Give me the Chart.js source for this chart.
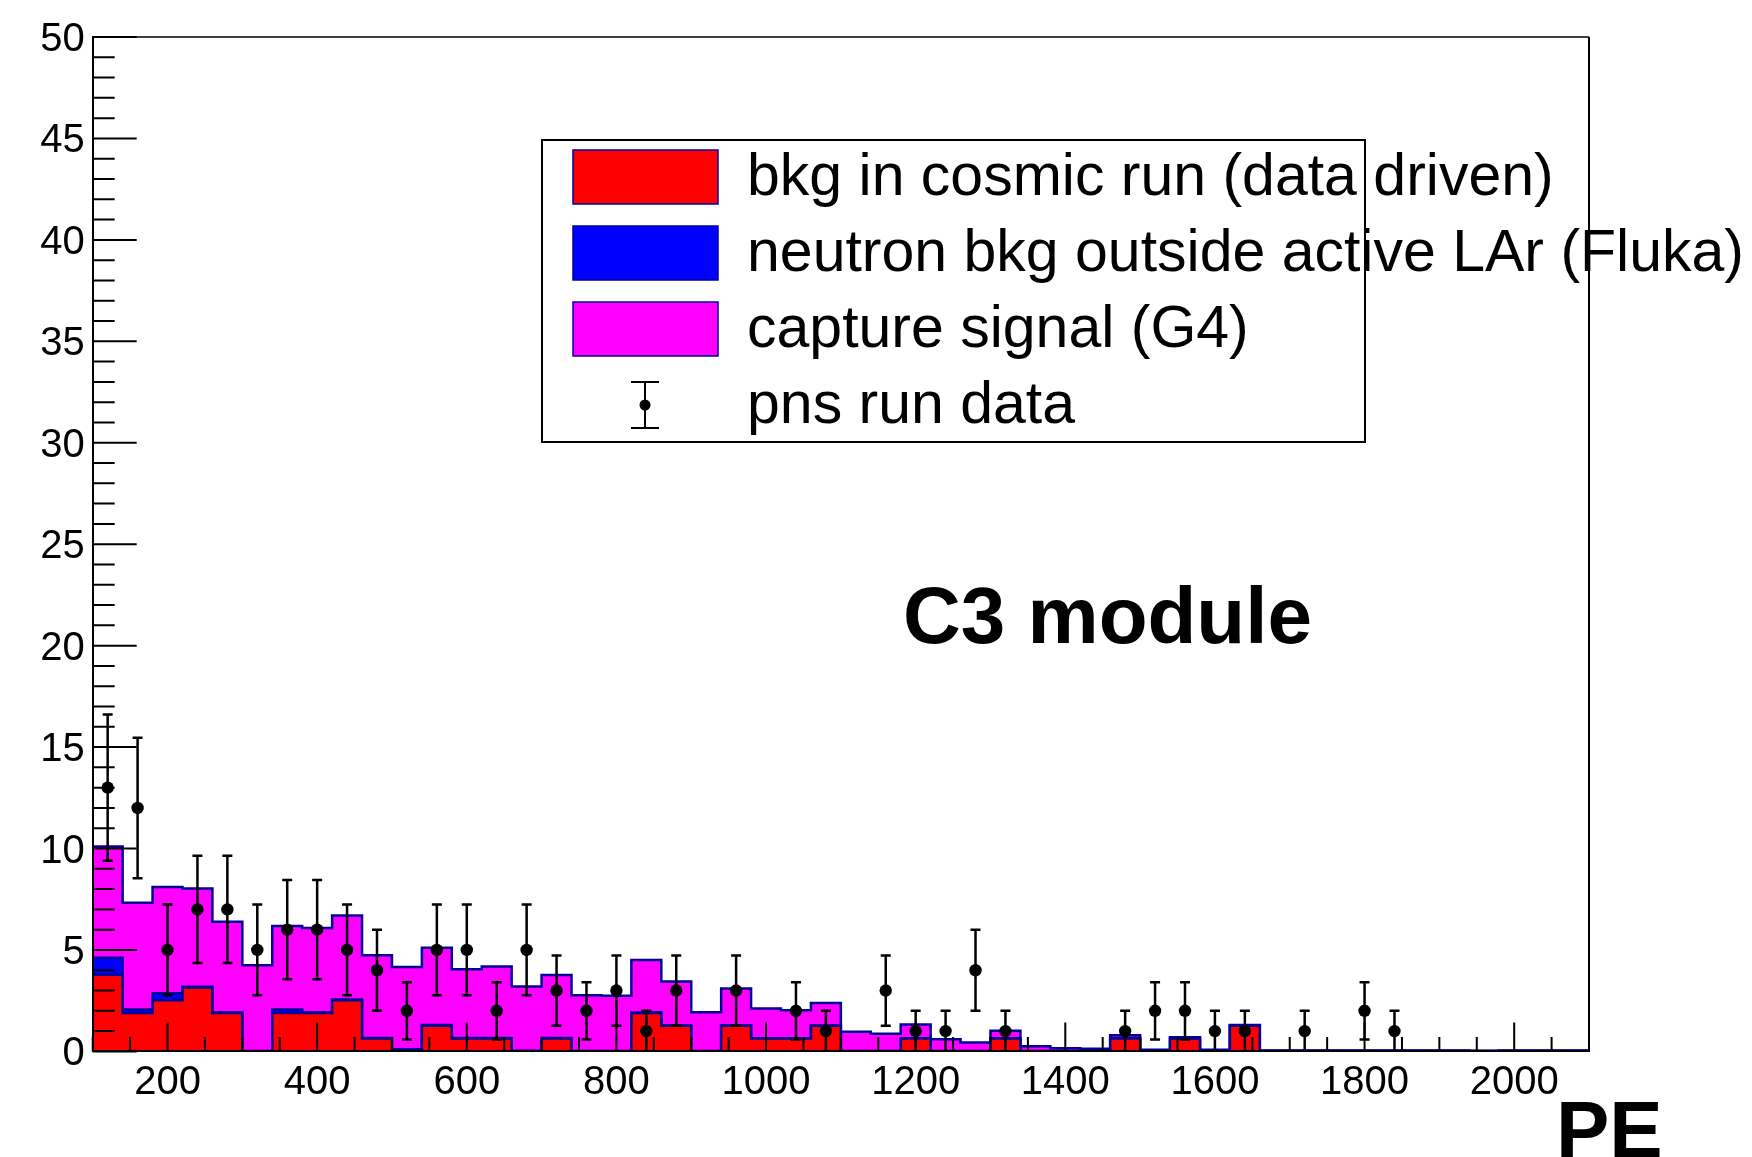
<!DOCTYPE html>
<html>
<head>
<meta charset="utf-8">
<script src="https://cdn.jsdelivr.net/npm/chart.js@4/dist/chart.umd.min.js"></script>
<style>
  html, body { margin: 0; padding: 0; background: #ffffff; overflow: hidden; }
  #wrap { width: 1752px; height: 1157px; position: relative; }
  canvas { display: block; }
</style>
</head>
<body>
<div id="wrap"><canvas id="pe" width="1752" height="1157"></canvas></div>
<script>
// Histogram binning (PE), 40 PE wide bins
const binLowEdges = [100,140,180,220,260,300,340,380,420,460,500,540,580,620,660,700,740,780,820,860,
  900,940,980,1020,1060,1100,1140,1180,1220,1260,1300,1340,1380,1420,1460,1500,1540,1580,1620,1660,
  1700,1740,1780,1820,1860,1900,1940,1980,2020,2060];
const histUpperEdge = 2100;

// Stacked components (entries per bin)
const cosmicBkg = [3.78,1.89,2.52,3.15,1.89,0,1.89,1.89,2.52,0.63,
  0,1.26,0.63,0.63,0,0.63,0,0,1.89,1.26,
  0,1.26,0.63,0.63,1.26,0,0,0.63,0,0,
  0.63,0,0,0,0.63,0,0.63,0,1.26,0,
  0,0,0,0,0,0,0,0,0,0];
const neutronBkg = [0.84,0.17,0.35,0.04,0.03,0.02,0.17,0.03,0.04,0.03,
  0.10,0.04,0.03,0.03,0.03,0.03,0.02,0.02,0.03,0.02,
  0.02,0.02,0.02,0.02,0.02,0.02,0.02,0.02,0.02,0.02,
  0.02,0.02,0.02,0.02,0.03,0.04,0.03,0.04,0.02,0.03,
  0.03,0.03,0.03,0.03,0.03,0.03,0.02,0.03,0.03,0.03];
const captureSignal = [5.48,5.27,5.23,4.84,4.47,4.23,4.12,4.16,4.14,4.08,
  4.06,3.81,3.39,3.52,3.17,3.11,2.75,2.72,2.58,2.16,
  1.91,1.82,1.46,1.38,1.10,0.95,0.85,0.68,0.58,0.42,
  0.37,0.23,0.14,0.11,0.13,0.04,0.04,0.04,0.02,0.01,
  0.01,0.01,0.01,0.01,0.01,0.01,0.01,0.01,0.01,0.01];

// Measured counts in the pns run
const pnsCounts = [13,12,5,7,7,5,6,6,5,4,
  2,5,5,2,5,3,2,3,1,3,
  0,3,0,2,1,0,3,1,1,4,
  1,0,0,0,1,2,2,1,1,0,
  1,0,2,1,0,0,0,0,0,0];

const seriesNames = ['bkg in cosmic run (data driven)', 'neutron bkg outside active LAr (Fluka)',
  'capture signal (G4)', 'pns run data'];
const xTickLabels = [200,400,600,800,1000,1200,1400,1600,1800,2000];
const yTickLabels = [0,5,10,15,20,25,30,35,40,45,50];
const axisTitle = 'PE';
const moduleLabel = 'C3 module';

const FONT = "'Liberation Sans', Arial, Helvetica, sans-serif";
const fillColors = ['#ff0000', '#0000ff', '#ff00ff'];
const outline = '#000099';

// step histogram: one point per lower bin edge plus the closing edge
function stepPoints(vals) {
  const pts = binLowEdges.map((e, i) => ({ x: e, y: vals[i] }));
  pts.push({ x: histUpperEdge, y: vals[vals.length - 1] });
  return pts;
}
function binCenter(i) {
  const hi = i + 1 < binLowEdges.length ? binLowEdges[i + 1] : histUpperEdge;
  return (binLowEdges[i] + hi) / 2;
}
const dataPoints = [];
pnsCounts.forEach((n, i) => { if (n > 0) dataPoints.push({ x: binCenter(i), y: n }); });

const histDataset = (label, vals, color, fill) => ({
  type: 'line', label, data: stepPoints(vals), stepped: true, fill,
  backgroundColor: color, borderColor: outline, borderWidth: 2.5,
  pointRadius: 0, tension: 0, stack: 'mc', yAxisID: 'y', order: 1
});

// inward ticks, frame, error bars
const framePlugin = {
  id: 'frame',
  afterDatasetsDraw(chart) {
    const { ctx, chartArea: a, scales } = chart;
    const xs = scales.x, ys = scales.y, yd = scales.yd;
    ctx.save();
    // error bars on data points (Poisson, sqrt(N))
    ctx.strokeStyle = '#000'; ctx.lineWidth = 2.5;
    dataPoints.forEach(p => {
      const err = Math.sqrt(p.y);
      const px = xs.getPixelForValue(p.x);
      const top = yd.getPixelForValue(p.y + err);
      const bot = yd.getPixelForValue(Math.max(p.y - err, 0));
      ctx.beginPath();
      ctx.moveTo(px, top); ctx.lineTo(px, bot);
      ctx.moveTo(px - 5, top); ctx.lineTo(px + 5, top);
      if (p.y - err > 0) { ctx.moveTo(px - 5, bot); ctx.lineTo(px + 5, bot); }
      ctx.stroke();
    });
    // y ticks (major every 5, minor every 1)
    ctx.lineWidth = 2;
    ctx.beginPath();
    for (let v = ys.min; v <= ys.max; v += 1) {
      const py = ys.getPixelForValue(v);
      const len = yTickLabels.includes(v) ? 44 : 22;
      ctx.moveTo(a.left, py); ctx.lineTo(a.left + len, py);
    }
    // x ticks (major every 200, minor every 50)
    for (let v = xs.min; v <= xs.max; v += 50) {
      const px = xs.getPixelForValue(v);
      const len = xTickLabels.includes(v) ? 29 : 14.5;
      ctx.moveTo(px, a.bottom); ctx.lineTo(px, a.bottom - len);
    }
    ctx.stroke();
    // frame top / right
    ctx.beginPath();
    ctx.lineWidth = 1.6;
    ctx.moveTo(a.left, a.top); ctx.lineTo(a.right, a.top);
    ctx.stroke();
    ctx.beginPath();
    ctx.lineWidth = 2;
    ctx.moveTo(a.right, a.top); ctx.lineTo(a.right, a.bottom);
    ctx.stroke();
    ctx.restore();
  },
  afterDraw(chart) {
    const { ctx } = chart;
    ctx.save();
    // legend box
    const bx = 542, by = 140, bw = 823, bh = 302;
    ctx.fillStyle = '#fff';
    ctx.fillRect(bx, by, bw, bh);
    ctx.strokeStyle = '#000'; ctx.lineWidth = 2;
    ctx.strokeRect(bx, by, bw, bh);
    const rowY = [177, 253, 329, 405];
    for (let i = 0; i < 3; i++) {
      ctx.fillStyle = fillColors[i];
      ctx.fillRect(573, rowY[i] - 27, 145, 54);
      ctx.strokeStyle = outline; ctx.lineWidth = 1.5;
      ctx.strokeRect(573, rowY[i] - 27, 145, 54);
    }
    // data marker in legend
    ctx.strokeStyle = '#000'; ctx.lineWidth = 2;
    ctx.beginPath();
    ctx.moveTo(645, 382); ctx.lineTo(645, 428);
    ctx.moveTo(631, 382); ctx.lineTo(659, 382);
    ctx.moveTo(631, 428); ctx.lineTo(659, 428);
    ctx.stroke();
    ctx.fillStyle = '#000';
    ctx.beginPath(); ctx.arc(645, 405, 5.5, 0, Math.PI * 2); ctx.fill();
    ctx.font = '59px ' + FONT;
    ctx.textBaseline = 'alphabetic'; ctx.textAlign = 'left';
    seriesNames.forEach((s, i) => ctx.fillText(s, 747, rowY[i] + 18));
    // annotations
    ctx.font = 'bold 80px ' + FONT;
    ctx.fillText(moduleLabel, 903, 643);
    ctx.font = 'bold 80px ' + FONT;
    ctx.fillText(axisTitle, 1556, 1157);
    ctx.restore();
  }
};

new Chart(document.getElementById('pe'), {
  type: 'line',
  data: {
    datasets: [
      histDataset(seriesNames[0], cosmicBkg, fillColors[0], 'origin'),
      histDataset(seriesNames[1], neutronBkg, fillColors[1], '-1'),
      histDataset(seriesNames[2], captureSignal, fillColors[2], '-1'),
      {
        type: 'line', label: seriesNames[3], data: dataPoints, showLine: false,
        pointRadius: 6.2, pointHoverRadius: 6.2, pointBackgroundColor: '#000',
        pointBorderWidth: 0, borderColor: '#000', yAxisID: 'yd', stack: 'data', order: 0
      }
    ]
  },
  options: {
    responsive: false,
    devicePixelRatio: 1,
    animation: false,
    events: [],
    layout: { padding: { top: 37, right: 163, left: 0, bottom: 0 } },
    plugins: { legend: { display: false }, tooltip: { enabled: false }, title: { display: false } },
    scales: {
      x: {
        type: 'linear', min: 100, max: 2100,
        grid: { display: false, drawTicks: false },
        border: { display: true, color: '#000', width: 2, z: 1 },
        ticks: {
          stepSize: 50, autoSkip: false, maxRotation: 0, minRotation: 0, padding: 8, color: '#000',
          font: { family: FONT, size: 40 },
          callback: v => xTickLabels.includes(v) ? String(v) : ''
        },
        afterFit(scale) { scale.height = 105.6; }
      },
      y: {
        type: 'linear', min: 0, max: 50, stacked: true,
        grid: { display: false, drawTicks: false },
        border: { display: true, color: '#000', width: 2, z: 1 },
        ticks: {
          stepSize: 1, autoSkip: false, padding: 8, labelOffset: 3, color: '#000',
          font: { family: FONT, size: 40 },
          callback: v => yTickLabels.includes(v) ? String(v) : ''
        },
        afterFit(scale) { scale.width = 92.7; }
      },
      yd: { type: 'linear', min: 0, max: 50, display: false }
    }
  },
  plugins: [framePlugin]
});
</script>
</body>
</html>
